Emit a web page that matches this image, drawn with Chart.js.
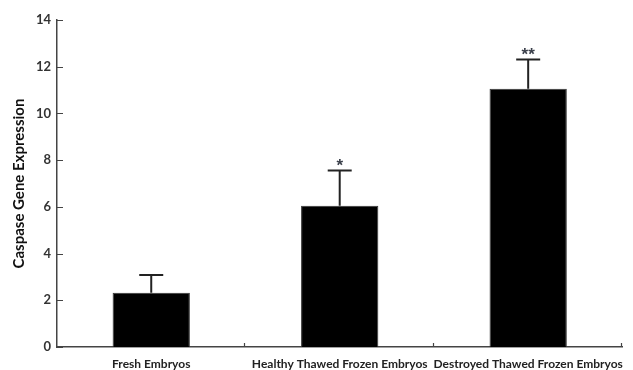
<!DOCTYPE html>
<html>
<head>
<meta charset="utf-8">
<script src="https://cdn.jsdelivr.net/npm/chart.js@4"></script>
<style>
  html, body { margin: 0; padding: 0; background: #fff; }
  #wrap { position: relative; width: 633px; height: 370px; }
</style>
</head>
<body>
<div id="wrap"><canvas id="chart"></canvas></div>
<script>
const categories = ["Fresh Embryos", "Healthy Thawed Frozen Embryos", "Destroyed Thawed Frozen Embryos"]
const means = [2.32, 6.05, 11.06]
const errors = [0.76, 1.51, 1.25]
const marks = ["", "*", "**"]
const yTicks = [0, 2, 4, 6, 8, 10, 12, 14]

const axisColor = "#444"

// error bars, significance marks and inward tick marks
const extras = {
    id: "extras",
    afterDatasetsDraw(chart) {
        const ctx = chart.ctx
        const xs = chart.scales.x
        const ys = chart.scales.y
        const area = chart.chartArea
        ctx.save()
        ctx.strokeStyle = "#222"
        ctx.lineWidth = 2
        means.forEach((m, i) => {
            const x = xs.getPixelForValue(i)
            const y0 = ys.getPixelForValue(m)
            const y1 = ys.getPixelForValue(m + errors[i])
            ctx.beginPath()
            ctx.moveTo(x, y0)
            ctx.lineTo(x, y1)
            ctx.moveTo(x - 12, y1)
            ctx.lineTo(x + 12, y1)
            ctx.stroke()
            if (marks[i]) {
                ctx.fillStyle = "#3a3f4a"
                ctx.font = "bold 17px 'Liberation Sans'"
                ctx.textAlign = "center"
                ctx.textBaseline = "alphabetic"
                ctx.fillText(marks[i], x, y1 + 1)
            }
        })
        ctx.strokeStyle = axisColor
        ctx.lineWidth = 1.2
        ctx.beginPath()
        yTicks.forEach(v => {
            const y = Math.round(ys.getPixelForValue(v)) + 0.5
            ctx.moveTo(area.left, y)
            ctx.lineTo(area.left + 6, y)
        })
        const step = xs.getPixelForValue(1) - xs.getPixelForValue(0)
        for (let i = 0; i < categories.length; i++) {
            const x = Math.round(xs.getPixelForValue(i) + step / 2) - 0.5
            ctx.moveTo(x, area.bottom)
            ctx.lineTo(x, area.bottom - 4)
        }
        ctx.stroke()
        ctx.restore()
    }
}

const chart = new Chart(document.getElementById("chart").getContext("2d"), {
    type: "bar",
    data: {
        labels: categories,
        datasets: [{
            data: means,
            backgroundColor: "#000",
            borderColor: "#333",
            borderWidth: 1,
            barPercentage: 0.82,
            categoryPercentage: 0.5,
        }]
    },
    options: {
        responsive: true,
        maintainAspectRatio: false,
        animation: false,
        layout: { padding: { left: 10, top: 20, right: 1, bottom: 0 } },
        plugins: {
            legend: { display: false },
            tooltip: { enabled: false },
        },
        scales: {
            x: {
                grid: { display: false, drawTicks: false },
                border: { display: true, color: axisColor, width: 1.5 },
                ticks: {
                    color: "#222",
                    padding: 10,
                    maxRotation: 0,
                    autoSkip: false,
                    font: { family: "Lato", weight: "bold", size: 12 },
                },
                afterFit: s => { s.height = 23 },
            },
            y: {
                min: 0,
                max: 14,
                grid: { display: false, drawTicks: false },
                border: { display: true, color: axisColor, width: 1.5 },
                ticks: {
                    stepSize: 2,
                    color: "#333",
                    padding: 6,
                    font: { family: "Lato", weight: "bold", size: 13 },
                },
                title: {
                    display: true,
                    text: "Caspase Gene Expression",
                    color: "#111",
                    padding: { top: 0, bottom: 0 },
                    font: { family: "Lato", weight: "bold", size: 15 },
                },
                afterFit: s => { s.width = 47 },
            }
        }
    },
    plugins: [extras]
})
</script>
</body>
</html>
